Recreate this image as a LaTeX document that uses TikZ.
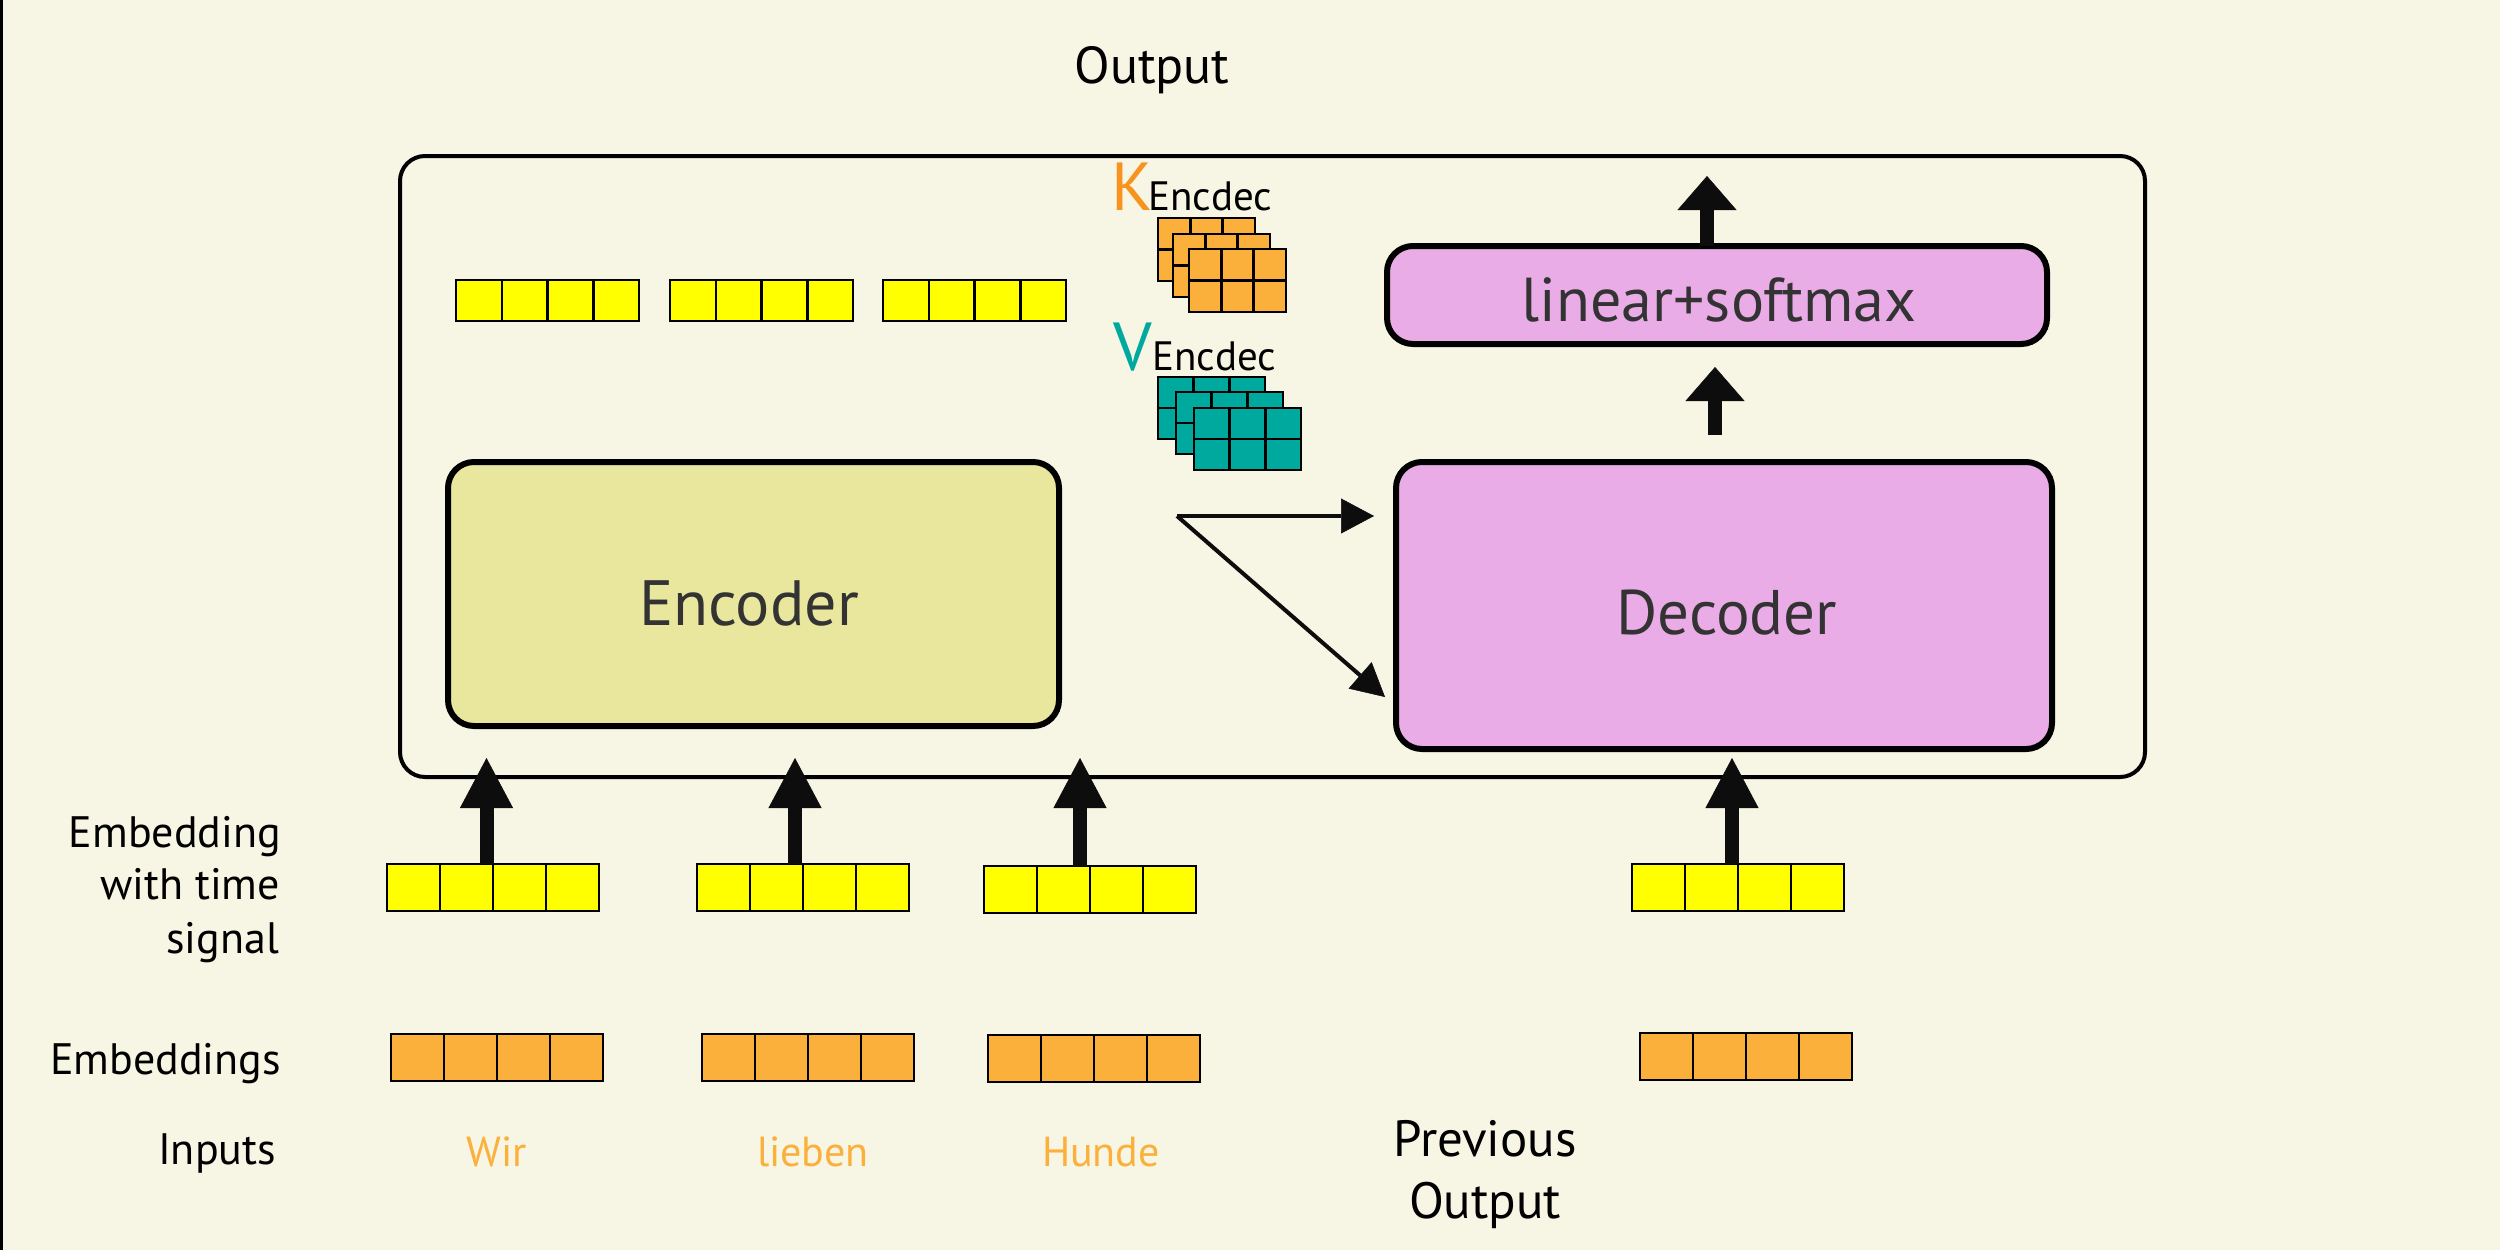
\documentclass[tikz,border=0pt]{standalone}
\usepackage{fontspec}
\setmainfont{PT Sans}
\usetikzlibrary{arrows.meta,calc}
\definecolor{bgc}{HTML}{F7F6E4}
\definecolor{ybar}{HTML}{FFFF00}
\definecolor{obar}{HTML}{FBB03B}
\definecolor{tealc}{HTML}{00A99D}
\definecolor{korange}{HTML}{F7931E}
\definecolor{encfill}{HTML}{E9E69D}
\definecolor{decfill}{HTML}{EAACE7}
\definecolor{darktxt}{HTML}{333333}
\definecolor{arrowc}{HTML}{0D0D0D}
\newcommand\cellbar[6]{% name, x, y, fill, w, h
  \node[draw=black, line width=2.5pt, fill=#4, minimum width=#5pt, minimum height=#6pt,
        inner sep=0pt, outer sep=0pt, anchor=north west] (#1) at (#2,#3) {};
  \foreach \k in {1,2,3}{\draw[line width=2.5pt] ($(#1.north west)!\k/4!(#1.north east)$) -- ($(#1.south west)!\k/4!(#1.south east)$);}
}
\newcommand\kvgrid[6]{% name, x, y, w, h, fill
  \node[draw=black, line width=2.7pt, fill=#6, minimum width=#4pt, minimum height=#5pt,
        inner sep=0pt, outer sep=0pt, anchor=north west] (#1) at (#2,#3) {};
  \foreach \k in {1,2}{\draw[line width=2.7pt] ($(#1.north west)!\k/3!(#1.north east)$) -- ($(#1.south west)!\k/3!(#1.south east)$);}
  \draw[line width=2.7pt] (#1.west) -- (#1.east);
}
\begin{document}
\begin{tikzpicture}[x=1pt,y=-1pt,
  lbl/.style={inner sep=0pt, outer sep=0pt, font=\fontsize{44}{53}\selectfont},
  inword/.style={inner sep=0pt, outer sep=0pt, text=obar, font=\fontsize{42}{50}\selectfont},
  rbox/.style={draw=black, line width=6pt, rounded corners=26pt, inner sep=0pt, outer sep=0pt, text=darktxt},
  bigarrow/.style={line width=14pt, draw=arrowc, -{Triangle[length=50pt,width=53pt,line width=0.5pt]}},
  midarrow/.style={line width=14pt, draw=arrowc, -{Triangle[length=34pt,width=59pt,line width=0.5pt]}},
  thinarrow/.style={line width=4pt, draw=arrowc, -{Triangle[length=33pt,width=35pt,line width=0.5pt]}},
]
\fill[bgc] (0,0) rectangle (2500,1250);
\useasboundingbox (0,0) rectangle (2500,1250);
\draw[line width=3pt] (1.5,0) -- (1.5,1250);

% main frame
\node[draw=black, line width=4pt, rounded corners=25pt, minimum width=1745pt, minimum height=621pt,
      inner sep=0pt, outer sep=0pt, anchor=north west] (main) at (400,156) {};

\node[lbl, font=\fontsize{52}{60}\selectfont, anchor=base] (outlbl) at (1152,83) {Output};

% top yellow bars
\cellbar{t1}{456}{280}{ybar}{183}{41}
\cellbar{t2}{670}{280}{ybar}{183}{41}
\cellbar{t3}{883}{280}{ybar}{183}{41}

% encoder / decoder / linear
\node[rbox, fill=encfill, minimum width=611pt, minimum height=264pt, anchor=north west] (enc) at (448,462) {};
\node[text=darktxt, inner sep=0pt, font=\fontsize{64}{72}\selectfont, anchor=base] (enctxt) at (749,625) {Encoder};
\node[rbox, fill=decfill, minimum width=656pt, minimum height=287pt, anchor=north west] (dec) at (1396,462) {};
\node[text=darktxt, inner sep=0pt, font=\fontsize{63}{72}\selectfont, anchor=base] (dectxt) at (1727,634) {Decoder};
\node[rbox, fill=decfill, minimum width=660pt, minimum height=98pt, anchor=north west] (lin) at (1387,246) {};
\node[text=darktxt, inner sep=0pt, font=\fontsize{62}{72}\selectfont, anchor=base] (lintxt) at (1719,321) {linear+softmax};

% K and V
\node[inner sep=0pt, text=korange, font=\fontsize{68}{76}\selectfont, anchor=base west] (klet) at (1111,210) {K};
\node[inner sep=0pt, font=\fontsize{41}{48}\selectfont, anchor=base west] (ksub) at (1148,210) {Encdec};
\kvgrid{k1}{1158}{218}{97}{63}{obar}
\kvgrid{k2}{1173}{234}{97}{63}{obar}
\kvgrid{k3}{1189}{249}{97}{63}{obar}
\node[inner sep=0pt, text=tealc, font=\fontsize{68}{76}\selectfont, anchor=base west] (vlet) at (1113,370) {V};
\node[inner sep=0pt, font=\fontsize{41}{48}\selectfont, anchor=base west] (vsub) at (1152,370) {Encdec};
\kvgrid{v1}{1158}{377}{107}{62}{tealc}
\kvgrid{v2}{1176}{392}{107}{62}{tealc}
\kvgrid{v3}{1194}{408}{107}{62}{tealc}

% encoder -> decoder arrows
\coordinate (split) at (1177,516);
\coordinate (diagtip) at (1385,697);
\draw[thinarrow] (split) -- ([xshift=-22pt]split -| dec.west);
\draw[thinarrow] (split) -- (diagtip);

% decoder -> linear -> output arrows
\draw[midarrow] ([xshift=-9pt,yshift=27pt]dec.north) -- ([xshift=-2pt,yshift=-23pt]lin.south);
\draw[midarrow] ([xshift=-10pt]lin.north) -- ([xshift=-10pt,yshift=-20pt]lin.north |- main.north);

% bottom bars
\cellbar{y1}{387}{864}{ybar}{212}{47}
\cellbar{y2}{697}{864}{ybar}{212}{47}
\cellbar{y3}{984}{866}{ybar}{212}{47}
\cellbar{y4}{1632}{864}{ybar}{212}{47}
\cellbar{o1}{391}{1034}{obar}{212}{47}
\cellbar{o2}{702}{1034}{obar}{212}{47}
\cellbar{o3}{988}{1035}{obar}{212}{47}
\cellbar{o4}{1640}{1033}{obar}{212}{47}

\draw[bigarrow] ([xshift=-6.5pt]y1.north) -- ([xshift=-6.5pt,yshift=19pt]y1.north |- main.south);
\draw[bigarrow] ([xshift=-8pt]y2.north) -- ([xshift=-8pt,yshift=19pt]y2.north |- main.south);
\draw[bigarrow] ([xshift=-10pt]y3.north) -- ([xshift=-10pt,yshift=19pt]y3.north |- main.south);
\draw[bigarrow] ([xshift=-6pt]y4.north) -- ([xshift=-6pt,yshift=-9pt]y4.north |- dec.south);

% left labels
\node[lbl, anchor=base east] (la) at (281,847) {Embedding};
\node[lbl, anchor=base east] (lb) at (280,899) {with time};
\node[lbl, anchor=base east] (lc) at (279,953) {signal};
\node[lbl, anchor=base east] (ld) at (281,1074) {Embeddings};
\node[lbl, anchor=base east] (le) at (276,1164) {Inputs};

% input words
\node[inword, anchor=base] (w1) at (497,1166) {Wir};
\node[inword, anchor=base] (w2) at (813,1166) {lieben};
\node[inword, anchor=base] (w3) at (1101,1166) {Hunde};

\node[lbl, font=\fontsize{51}{60}\selectfont, anchor=base] (p1) at (1485,1156) {Previous};
\node[lbl, font=\fontsize{51}{60}\selectfont, anchor=base] (p2) at (1485,1218) {Output};
\end{tikzpicture}
\end{document}
